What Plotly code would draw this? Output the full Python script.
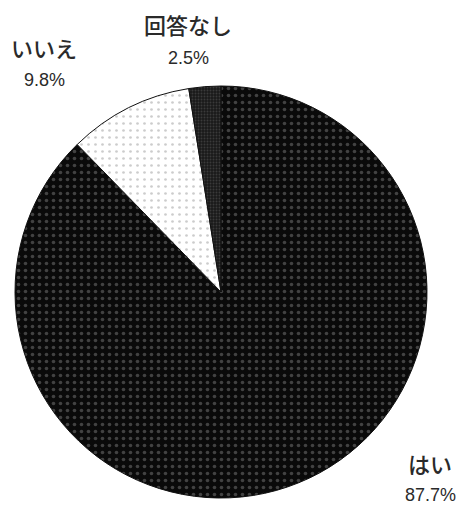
import plotly.graph_objects as go

labels = ["はい", "いいえ", "回答なし"]
values = [87.7, 9.8, 2.5]
pct_text = ["87.7%", "9.8%", "2.5%"]

# page body has an 8px margin, so draw in a 462x498 figure and offset coordinates
OFF = 8
W, H = 470 - OFF, 506 - OFF
cx, cy, r = 221 - OFF, 292 - OFF, 206

fig = go.Figure(go.Pie(
    labels=labels,
    values=values,
    sort=False,
    direction="clockwise",
    rotation=0,
    textinfo="none",
    hoverinfo="label+percent",
    marker=dict(
        colors=["#0a0a0a", "#ffffff", "#1a1a1a"],
        line=dict(color="#111111", width=1),
        pattern=dict(
            shape=[".", ".", "."],
            fgcolor=["#7a7a7a", "#999999", "#5a5a5a"],
            bgcolor=["#0a0a0a", "#ffffff", "#1a1a1a"],
            size=[7, 7, 3],
            solidity=[0.2, 0.12, 0.3],
            fillmode="overlay",
        ),
    ),
    domain=dict(x=[(cx - r) / W, (cx + r) / W], y=[1 - (cy + r) / H, 1 - (cy - r) / H]),
    showlegend=False,
))

font_j = dict(family="Noto Sans CJK JP", size=22, color="#2a2a2a", weight=500)
font_n = dict(family="Liberation Sans, Arial", size=18, color="#2a2a2a")
label_pos = [(430, 463, 495), (44, 47, 80), (188, 24, 58)]
for lab, txt, (x, y1, y2) in zip(labels, pct_text, label_pos):
    fig.add_annotation(x=(x - OFF) / W, y=1 - (y1 - OFF) / H, xref="paper", yref="paper", text=lab,
                       showarrow=False, font=font_j, xanchor="center", yanchor="middle")
    fig.add_annotation(x=(x - OFF) / W, y=1 - (y2 - OFF) / H, xref="paper", yref="paper", text=txt,
                       showarrow=False, font=font_n, xanchor="center", yanchor="middle")

fig.update_layout(width=W, height=H, margin=dict(l=0, r=0, t=0, b=0),
                  paper_bgcolor="white", plot_bgcolor="white")
fig.write_html("out.html")
